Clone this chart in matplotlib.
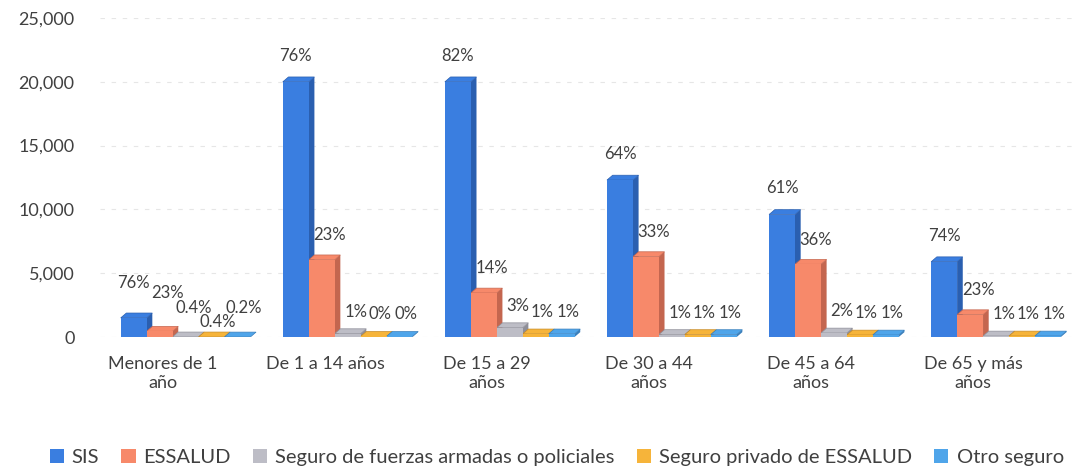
import numpy as np
import matplotlib
matplotlib.use("Agg")
import matplotlib.pyplot as plt
from matplotlib.patches import Polygon
from matplotlib import font_manager

# 各年龄段 × 保险类型 的人数
grupos = ["Menores de 1\naño", "De 1 a 14 años", "De 15 a 29\naños",
          "De 30 a 44\naños", "De 45 a 64\naños", "De 65 y más\naños"]
series = ["SIS", "ESSALUD", "Seguro de fuerzas armadas o policiales",
          "Seguro privado de ESSALUD", "Otro seguro"]
sis = [1500, 20000, 20000, 12300, 9600, 5900]
essalud = [450, 6050, 3450, 6300, 5700, 1750]
ffaa = [8, 263, 730, 192, 315, 80]
privado = [8, 50, 244, 192, 157, 80]
otro = [4, 50, 244, 192, 157, 80]
pct = [
    ["76%", "76%", "82%", "64%", "61%", "74%"],
    ["23%", "23%", "14%", "33%", "36%", "23%"],
    ["0.4%", "1%", "3%", "1%", "2%", "1%"],
    ["0.4%", "0%", "1%", "1%", "1%", "1%"],
    ["0.2%", "0%", "1%", "1%", "1%", "1%"],
]
colores = ["#3a7ee0", "#f7896a", "#bdbdc6", "#f6b43a", "#4fa5ea"]
laterales = ["#2a5fb0", "#c4664f", "#8e8e98", "#c68a26", "#3a7fbb"]

valores = [sis, essalud, ffaa, privado, otro]

names = {f.name for f in font_manager.fontManager.ttflist}
base_font = "Lato" if "Lato" in names else "DejaVu Sans"
narrow = "Liberation Sans Narrow" if "Liberation Sans Narrow" in names else base_font
plt.rcParams["font.family"] = [base_font, "DejaVu Sans"]

fig = plt.figure(figsize=(10.83, 4.74), dpi=100)
ax = fig.add_axes([0.092, 0.289, 0.901, 0.673])

x = np.arange(len(grupos))
w = 0.16
dx, dy = 0.035, 380  # 伪 3D 的深度偏移
# 第一组标签挤在一起，原图里上下错开
lift = [[19, 13, 13, 13, 13, 13],
        [22, 12, 12, 12, 12, 12],
        [15, 10, 10, 10, 10, 10],
        [5, 10, 10, 10, 10, 10],
        [15, 10, 10, 10, 10, 10]]
shift = [0, 0.05, 0.05, 0.04, 0.04]

for i, (vals, c, cs) in enumerate(zip(valores, colores, laterales)):
    xs = x - 2 * w + i * w - w / 2
    ax.bar(xs, vals, width=w, color=c, align="edge", zorder=3 + i * 0.01,
           label=series[i], edgecolor="none")
    for xi, h in zip(xs, vals):
        side = Polygon([(xi + w, 0), (xi + w + dx, dy), (xi + w + dx, h + dy), (xi + w, h)],
                       closed=True, facecolor=cs, edgecolor="none", zorder=2.9 + i * 0.01)
        top = Polygon([(xi, h), (xi + dx, h + dy), (xi + w + dx, h + dy), (xi + w, h)],
                      closed=True, facecolor=c, edgecolor=cs, lw=0.5, zorder=2.9 + i * 0.01)
        ax.add_patch(side)
        ax.add_patch(top)
    for j, (xi, h, t) in enumerate(zip(xs, vals, pct[i])):
        ax.annotate(t, (xi + w / 2 + shift[i], h), xytext=(0, lift[i][j]),
                    textcoords="offset points", ha="center", va="bottom",
                    fontsize=12, color="#404040", zorder=6)

ax.set_xlim(-0.53, 5.49)
ax.set_ylim(0, 25000)
ax.set_yticks(range(0, 25001, 5000))
ax.set_yticklabels([f"{v:,}" for v in range(0, 25001, 5000)])
ax.set_xticks(x - 0.14)
ax.set_xticklabels(grupos)
ax.tick_params(axis="both", length=0, labelsize=13, colors="#404040")
ax.tick_params(axis="y", pad=18)
ax.tick_params(axis="x", pad=14)
for s in ax.spines.values():
    s.set_visible(False)
ax.yaxis.grid(True, color="#e6e6e6", linestyle=(0, (4, 6)), linewidth=0.8, zorder=0)
ax.set_axisbelow(True)

handles, labels = ax.get_legend_handles_labels()
leg = fig.legend(handles, labels, loc="center", bbox_to_anchor=(0.514, 0.035), ncol=5,
                 frameon=False, handlelength=0.7, handleheight=0.7, handletextpad=0.4,
                 columnspacing=1.1, prop={"family": narrow, "size": 14.5})
for t in leg.get_texts():
    t.set_color("#404040")

fig.savefig("out.png", dpi=100)
